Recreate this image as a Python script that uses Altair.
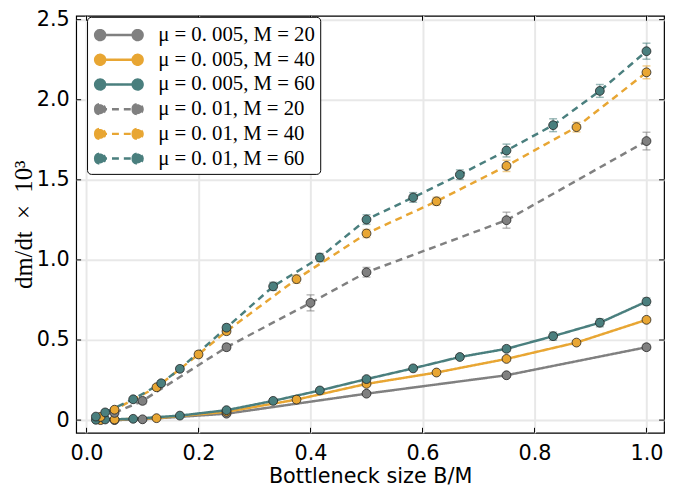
import altair as alt
import pandas as pd

labels = ["μ = 0. 005, M = 20", "μ = 0. 005, M = 40", "μ = 0. 005, M = 60",
          "μ = 0. 01, M = 20", "μ = 0. 01, M = 40", "μ = 0. 01, M = 60"]
colors = ["#808080", "#e8a633", "#4a7f7e", "#808080", "#e8a633", "#4a7f7e"]
dashes = [[1, 0], [1, 0], [1, 0], [7, 5], [7, 5], [7, 5]]

# mu = 0.005
x_a20 = [0.05, 0.1, 0.25, 0.5, 0.75, 1.0]
y_a20 = [0.0, 0.005, 0.04, 0.165, 0.28, 0.455]
e_a20 = [0.004, 0.004, 0.006, 0.008, 0.01, 0.018]

x_a40 = [0.025, 0.05, 0.125, 0.25, 0.375, 0.5, 0.625, 0.75, 0.875, 1.0]
y_a40 = [0.0, 0.004, 0.012, 0.052, 0.128, 0.226, 0.297, 0.382, 0.484, 0.626]
e_a40 = [0.003, 0.003, 0.004, 0.006, 0.008, 0.01, 0.01, 0.012, 0.014, 0.016]

x_a60 = [0.0167, 0.0333, 0.0833, 0.1667, 0.25, 0.3333, 0.4167, 0.5, 0.5833,
         0.6667, 0.75, 0.8333, 0.9167, 1.0]
y_a60 = [0.002, 0.004, 0.008, 0.028, 0.062, 0.12, 0.185, 0.256, 0.323,
         0.394, 0.445, 0.524, 0.608, 0.74]
e_a60 = [0.003, 0.003, 0.004, 0.005, 0.008, 0.01, 0.01, 0.012, 0.012,
         0.014, 0.016, 0.025, 0.025, 0.022]

# mu = 0.01
x_b20 = [0.05, 0.1, 0.25, 0.4, 0.5, 0.75, 1.0]
y_b20 = [0.045, 0.12, 0.455, 0.732, 0.923, 1.248, 1.742]
e_b20 = [0.01, 0.02, 0.02, 0.05, 0.03, 0.05, 0.055]

x_b40 = [0.025, 0.05, 0.125, 0.2, 0.25, 0.375, 0.5, 0.625, 0.75, 0.875, 1.0]
y_b40 = [0.02, 0.065, 0.205, 0.41, 0.555, 0.88, 1.165, 1.366, 1.587, 1.829, 2.171]
e_b40 = [0.01, 0.01, 0.015, 0.02, 0.02, 0.025, 0.025, 0.025, 0.035, 0.03, 0.04]

x_b60 = [0.0167, 0.0333, 0.0833, 0.1333, 0.1667, 0.25, 0.3333, 0.4167, 0.5,
         0.5833, 0.6667, 0.75, 0.8333, 0.9167, 1.0]
y_b60 = [0.022, 0.048, 0.13, 0.23, 0.32, 0.577, 0.835, 1.015, 1.252,
         1.39, 1.532, 1.683, 1.841, 2.055, 2.303]
e_b60 = [0.01, 0.01, 0.01, 0.015, 0.015, 0.02, 0.025, 0.025, 0.03,
         0.03, 0.03, 0.04, 0.04, 0.04, 0.05]

x_ticks = [0.0, 0.2, 0.4, 0.6, 0.8, 1.0]
y_ticks = [0.0, 0.5, 1.0, 1.5, 2.0, 2.5]

series = [(x_a20, y_a20, e_a20), (x_a40, y_a40, e_a40), (x_a60, y_a60, e_a60),
          (x_b20, y_b20, e_b20), (x_b40, y_b40, e_b40), (x_b60, y_b60, e_b60)]

rows = []
for lab, (xs, ys, es) in zip(labels, series):
    for xv, yv, ev in zip(xs, ys, es):
        rows.append({"series": lab, "x": xv, "y": yv, "lo": yv - ev, "hi": yv + ev})
df = pd.DataFrame(rows)

W, H = 595, 422
xscale = alt.Scale(domain=[-0.0185, 1.0314], nice=False, zero=False)
yscale = alt.Scale(domain=[-0.079, 2.524], nice=False, zero=False)

xa = alt.Axis(values=x_ticks, format=".1f", title="Bottleneck size B/M",
              titleFont="DejaVu Sans", titleFontSize=21, titlePadding=2,
              titleFontWeight="normal", titleColor="black", labelPadding=10)
ya = alt.Axis(values=y_ticks,
              labelExpr="datum.value == 0 ? '0' : format(datum.value, '.1f')",
              title="dm/dt\u00a0\u00a0×\u00a0\u00a010³", titleFont="Liberation Serif",
              titleFontSize=25, titleFontWeight="normal", titleColor="black",
              titleX=-45, titleY=H / 2, titleAngle=270, titleAlign="center",
              titleBaseline="alphabetic", labelPadding=7)

# symbol path in units of sqrt(symbolSize)/2 = 12.25 px
sym_path = ("M-0.43,0L2.67,0"
            "M-0.84,0a0.41,0.41 0 1,0 0.82,0a0.41,0.41 0 1,0 -0.82,0"
            "M2.26,0a0.41,0.41 0 1,0 0.82,0a0.41,0.41 0 1,0 -0.82,0")

legend = alt.Legend(title=None, orient="none", legendX=11, legendY=1,
                    symbolType=sym_path, symbolSize=600, symbolStrokeWidth=2.5,
                    labelFont="Liberation Serif", labelFontSize=21, labelColor="black",
                    labelOffset=40, rowPadding=1, padding=5,
                    fillColor="white", strokeColor="black", cornerRadius=4,
                    symbolOpacity=1)

base = alt.Chart(df)

lines = base.mark_line(strokeWidth=2.5).encode(
    x=alt.X("x:Q", scale=xscale, axis=xa),
    y=alt.Y("y:Q", scale=yscale, axis=ya),
    stroke=alt.Stroke("series:N", sort=labels,
                      scale=alt.Scale(domain=labels, range=colors), legend=legend),
    strokeDash=alt.StrokeDash("series:N", sort=labels,
                              scale=alt.Scale(domain=labels, range=dashes), legend=legend),
    order="x:Q",
)

errs = base.mark_errorbar(ticks={"size": 8}, thickness=1.5, opacity=0.55).encode(
    x=alt.X("x:Q", scale=xscale, axis=xa),
    y=alt.Y("lo:Q", scale=yscale, axis=ya),
    y2="hi:Q",
    color=alt.Color("series:N", scale=alt.Scale(domain=labels, range=colors), legend=None),
)

points = base.mark_point(filled=True, size=80, stroke="#222222", strokeWidth=0.8,
                         opacity=1).encode(
    x=alt.X("x:Q", scale=xscale, axis=xa),
    y=alt.Y("y:Q", scale=yscale, axis=ya),
    fill=alt.Fill("series:N", sort=labels,
                  scale=alt.Scale(domain=labels, range=colors), legend=legend),
)

ydf = pd.DataFrame({"v": y_ticks})
xdf = pd.DataFrame({"v": x_ticks})
tl = alt.Chart(ydf).mark_rule(color="black", strokeWidth=1).encode(
    y=alt.Y("v:Q", scale=yscale, axis=ya), x=alt.value(0), x2=alt.value(5))
tr = alt.Chart(ydf).mark_rule(color="black", strokeWidth=1).encode(
    y=alt.Y("v:Q", scale=yscale, axis=ya), x=alt.value(W - 5), x2=alt.value(W))
tb = alt.Chart(xdf).mark_rule(color="black", strokeWidth=1).encode(
    x=alt.X("v:Q", scale=xscale, axis=xa), y=alt.value(H - 5), y2=alt.value(H))
tt = alt.Chart(xdf).mark_rule(color="black", strokeWidth=1).encode(
    x=alt.X("v:Q", scale=xscale, axis=xa), y=alt.value(0), y2=alt.value(5))

chart = alt.layer(lines, errs, points, tl, tr, tb, tt).resolve_scale(
    color="independent"
).properties(
    width=W, height=H,
    autosize=alt.AutoSizeParams(type="none"),
    padding={"left": 69, "top": 5, "right": 5, "bottom": 52},
).configure_view(
    stroke="black", strokeWidth=1.2
).configure_axis(
    domain=False, ticks=False, grid=True, gridColor="#e8e8e8", gridWidth=2,
    labelFont="DejaVu Sans", labelFontSize=21, labelColor="black",
)

chart.save("out.html", embed_options={"renderer": "svg", "actions": False})
